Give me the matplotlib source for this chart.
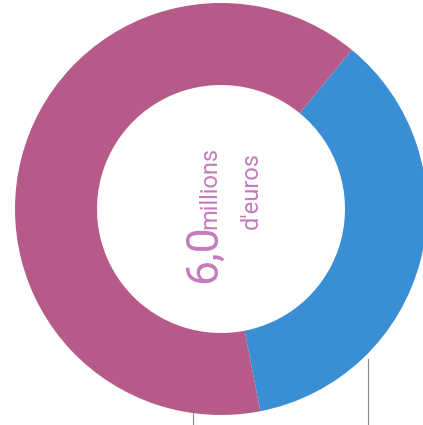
import matplotlib.pyplot as plt

# Share of the 6,0 million euros (read from the ring)
labels = ["Bleu", "Rose"]
values = [36, 64]
colors = ["#3A8ED4", "#B55A89"]

big_label = "6,0"
unit_top = "millions"
unit_bottom = "d'euros"

fig = plt.figure(figsize=(4.23, 4.25), dpi=100)
ax = fig.add_axes([0, 0, 1, 1])

# Donut
ax.pie(values, colors=colors, startangle=-79, counterclock=True,
       center=(221, 216), radius=206, frame=True,
       wedgeprops=dict(width=82, linewidth=0))
ax.set_xlim(0, 423)
ax.set_ylim(0, 425)
ax.set_aspect("equal")
ax.axis("off")

# Thin leader lines at the bottom
ax.plot([193, 193], [0, 12], color="#888888", lw=0.8)
ax.plot([368, 368], [0, 66], color="#888888", lw=0.8)

# Centre text, rotated (reads bottom to top)
font = ["Roboto", "DejaVu Sans"]
txt_color = "#C47BBC"
ax.text(216, 142, big_label, rotation=90, rotation_mode="anchor",
        ha="left", va="baseline", fontsize=32, color=txt_color,
        family=font)
ax.text(216, 196, unit_top, rotation=90, rotation_mode="anchor",
        ha="left", va="baseline", fontsize=17, color=txt_color,
        family=font)
ax.text(258, 196, unit_bottom, rotation=90, rotation_mode="anchor",
        ha="left", va="baseline", fontsize=17, color=txt_color,
        family=font)

plt.savefig("out.png", dpi=100)
